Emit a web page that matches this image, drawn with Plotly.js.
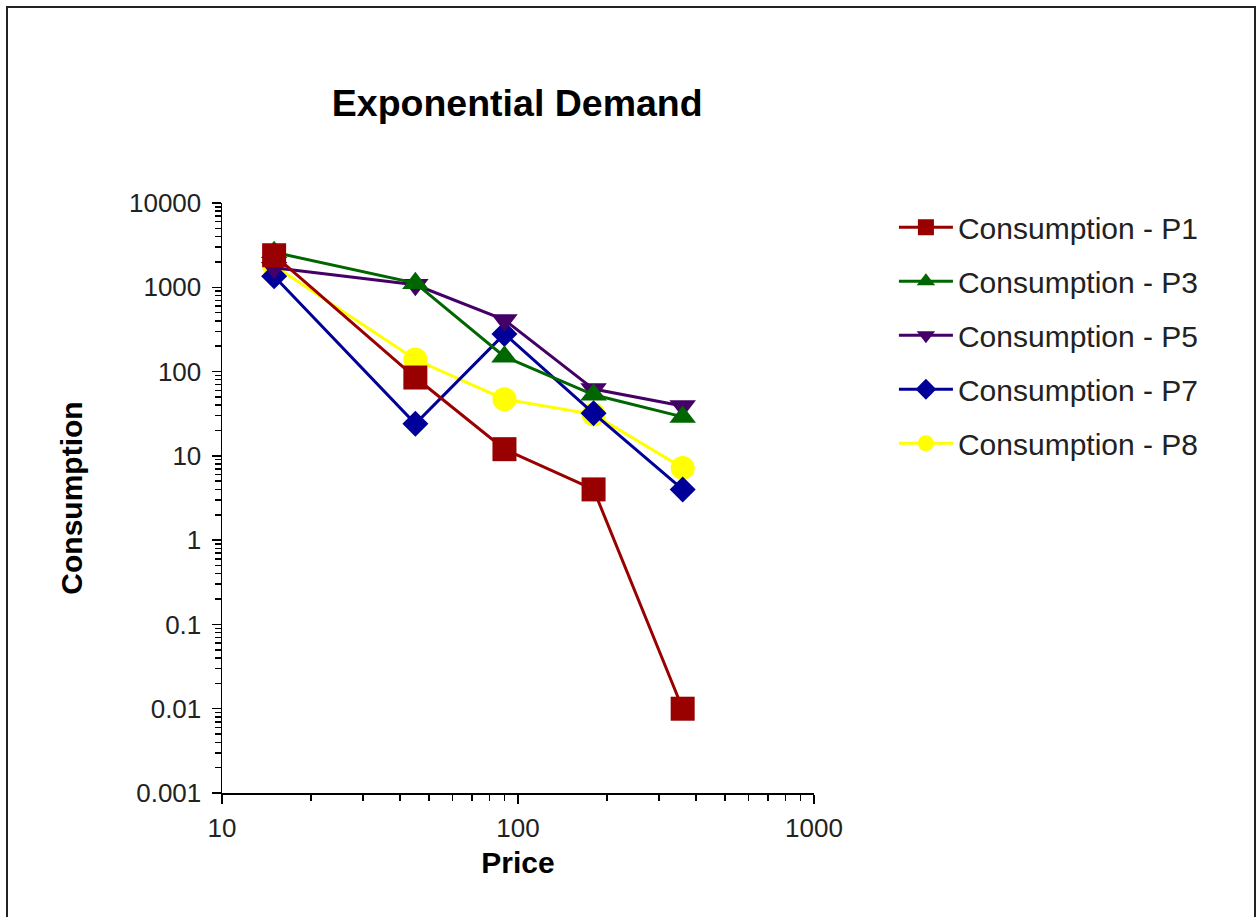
<!DOCTYPE html>
<html>
<head>
<meta charset="utf-8">
<script src="https://cdn.plot.ly/plotly-3.0.1.min.js"></script>
<style>
  html, body { margin: 0; padding: 0; background: #fff; overflow: hidden; }
  #frame { position: absolute; left: 6px; top: 6px; width: 1246px; height: 940px;
           border: 2px solid #222; border-bottom: none; pointer-events: none; z-index: 5; }
  #chart { position: absolute; left: 0; top: 0; width: 1260px; height: 917px; }
</style>
</head>
<body>
<div id="frame"></div>
<div id="chart"></div>
<script>
// Data
const price = [15, 45, 90, 180, 360];
const seriesNames = ["Consumption - P1", "Consumption - P3", "Consumption - P5", "Consumption - P7", "Consumption - P8"];
const p1 = [2400, 85, 12, 4, 0.01];
const p3 = [2600, 1120, 150, 53, 29];
const p5 = [1700, 1070, 410, 62, 39];
const p7 = [1350, 24, 280, 32, 4];
const p8 = [1800, 139, 47, 31, 7.2];

// Tick labels
const xTickVals = [10, 100, 1000];
const xTickLabels = ["10", "100", "1000"];
const yTickVals = [0.001, 0.01, 0.1, 1, 10, 100, 1000, 10000];
const yTickLabels = ["0.001", "0.01", "0.1", "1", "10", "100", "1000", "10000"];

const colors = ["#990000", "#006600", "#440066", "#000099", "#FFFF00"];
const symbols = ["square", "triangle-up", "triangle-down", "diamond", "circle"];
const sizes = [24, 23, 23, 20, 24];
const values = [p1, p3, p5, p7, p8];

const traces = [];
// draw P8 first so P1 ends on top
for (let i = values.length - 1; i >= 0; i--) {
  traces.push({
    x: price, y: values[i], name: seriesNames[i],
    type: "scatter", mode: "lines+markers",
    line: {color: colors[i], width: 3},
    marker: {color: colors[i], symbol: symbols[i], size: sizes[i], line: {width: 0}},
    legendgroup: "g" + i, legendrank: i + 1
  });
}

const fontFam = "Arial, 'Liberation Sans', sans-serif";
const layout = {
  width: 1260, height: 917,
  margin: {l: 222, r: 446, t: 203, b: 124, pad: 0},
  paper_bgcolor: "#ffffff", plot_bgcolor: "#ffffff",
  font: {family: fontFam, color: "#000"},
  title: {text: "<b>Exponential Demand</b>", font: {size: 37.5, family: fontFam, color: "#000"},
          x: 0.4105, xanchor: "center", y: 0.888, yanchor: "middle"},
  xaxis: {
    type: "log", range: [1, 3],
    tickmode: "array", tickvals: xTickVals, ticktext: xTickLabels,
    showgrid: false, zeroline: false,
    showline: true, linecolor: "#000", linewidth: 1.5,
    ticks: "outside", ticklen: 9, tickwidth: 1.5, tickcolor: "#000",
    minor: {ticks: "outside", ticklen: 6, tickwidth: 1.5, tickcolor: "#000", showgrid: false, dtick: "D1"},
    tickfont: {size: 26, family: fontFam, color: "#222"},
    ticklabelstandoff: 2,
    title: {text: "<b>Price</b>", font: {size: 30, family: fontFam, color: "#000"}, standoff: 10}
  },
  yaxis: {
    type: "log", range: [-3, 4],
    tickmode: "array", tickvals: yTickVals, ticktext: yTickLabels,
    showgrid: false, zeroline: false,
    showline: true, linecolor: "#000", linewidth: 1.5,
    ticks: "outside", ticklen: 9, tickwidth: 1.5, tickcolor: "#000",
    minor: {ticks: "outside", ticklen: 6, tickwidth: 1.5, tickcolor: "#000", showgrid: false, dtick: "D1"},
    tickfont: {size: 26, family: fontFam, color: "#222"},
    ticklabelstandoff: 5,
    title: {text: "<b>Consumption</b>", font: {size: 30, family: fontFam, color: "#000"}, standoff: 37}
  },
  showlegend: true,
  legend: {
    x: 1.135, xanchor: "left", y: 1.003, yanchor: "top",
    font: {size: 30, family: fontFam, color: "#222"},
    bgcolor: "rgba(0,0,0,0)", borderwidth: 0,
    tracegroupgap: 12, itemwidth: 54, traceorder: "grouped"
  }
};

Plotly.newPlot("chart", traces, layout, {displayModeBar: false, staticPlot: true});
</script>
</body>
</html>
